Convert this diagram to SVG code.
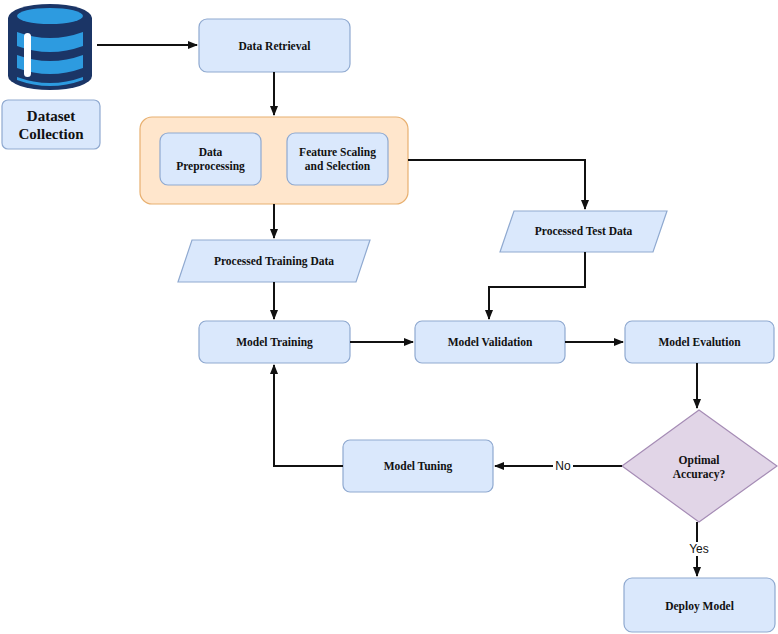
<svg xmlns="http://www.w3.org/2000/svg" width="778" height="634" viewBox="0 0 778 634">
<style>
.b{fill:#dae8fc;stroke:#8fa9d0;stroke-width:1.2}
.t{font-family:"Liberation Serif",serif;font-weight:bold;font-size:11.5px;fill:#111;text-anchor:middle}
.c{fill:none;stroke:#111;stroke-width:2}
.l{font-family:"Liberation Sans",sans-serif;font-size:12px;fill:#111;text-anchor:middle}
</style>
<defs><marker id="a" viewBox="0 0 10 10" refX="9" refY="5" markerWidth="5" markerHeight="5" orient="auto"><path d="M0,1 L10,5 L0,9 z" fill="#111"/></marker></defs>
<rect width="778" height="634" fill="#fff"/>
<g id="db">
<path d="M8,18 A42,14 0 0 1 92,18 L92,76 A42,14 0 0 1 8,76 Z" fill="#1b3566"/>
<ellipse cx="50" cy="16" rx="33" ry="8" fill="#2d9be0"/>
<path d="M17,32 Q50,44 83,32 L83,46 Q50,58 17,46 Z" fill="#2d9be0"/>
<path d="M17,55 Q50,67 83,55 L83,68 Q50,80 17,68 Z" fill="#2d9be0"/>
<path d="M17,77 Q50,89 83,77 L83,80 Q50,92 17,80 Z" fill="#2d9be0"/>
<rect x="24" y="33" width="7" height="44" rx="3.5" fill="#fff"/>
</g>
<g id="dataset"><rect class="b" x="2" y="100" width="98" height="49" rx="6"/><text class="t" style="font-size:15px" x="51" y="121">Dataset</text><text class="t" style="font-size:15px" x="51" y="139">Collection</text></g>
<g id="retrieval"><rect class="b" x="199" y="19" width="151" height="53" rx="8"/><text class="t" x="274.5" y="50">Data Retrieval</text></g>
<g id="prep-group"><rect x="140" y="117" width="268" height="87" rx="12" fill="#ffe6cc" stroke="#e8b070" stroke-width="1.2"/></g>
<g id="preproc"><rect class="b" x="160" y="133" width="101" height="52" rx="8"/><text class="t" x="210.5" y="156">Data</text><text class="t" x="210.5" y="170">Preprocessing</text></g>
<g id="feature"><rect class="b" x="287" y="133" width="101" height="52" rx="8"/><text class="t" x="337.5" y="156">Feature Scaling</text><text class="t" x="337.5" y="170">and Selection</text></g>
<g id="testdata"><polygon class="b" points="514,211 667,211 653,252 500,252"/><text class="t" x="583.5" y="235">Processed Test Data</text></g>
<g id="traindata"><polygon class="b" points="192,240 370,240 356,282 178,282"/><text class="t" x="274" y="265">Processed Training Data</text></g>
<g id="training"><rect class="b" x="199" y="321" width="151" height="42" rx="7"/><text class="t" x="274.5" y="346">Model Training</text></g>
<g id="validation"><rect class="b" x="415" y="321" width="150" height="42" rx="7"/><text class="t" x="490" y="346">Model Validation</text></g>
<g id="evaluation"><rect class="b" x="625" y="321" width="149" height="42" rx="7"/><text class="t" x="699.5" y="346">Model Evalution</text></g>
<g id="decision"><polygon points="699,410 777,466 699,522 622,466" fill="#e1d5e7" stroke="#a58cb5" stroke-width="1.2"/><text class="t" x="699" y="464">Optimal</text><text class="t" x="699" y="478">Accuracy?</text></g>
<g id="tuning"><rect class="b" x="343" y="440" width="150" height="52" rx="7"/><text class="t" x="418" y="470">Model Tuning</text></g>
<g id="deploy"><rect class="b" x="624" y="578" width="151" height="54" rx="8"/><text class="t" x="699.5" y="610">Deploy Model</text></g>
<g id="connectors">
<path class="c" d="M97,45 H197" marker-end="url(#a)"/>
<path class="c" d="M274,72 V115" marker-end="url(#a)"/>
<path class="c" d="M408,160 H585 V209" marker-end="url(#a)"/>
<path class="c" d="M274,204 V238" marker-end="url(#a)"/>
<path class="c" d="M274,282 V319" marker-end="url(#a)"/>
<path class="c" d="M585,252 V287 H489 V319" marker-end="url(#a)"/>
<path class="c" d="M350,342 H413" marker-end="url(#a)"/>
<path class="c" d="M565,342 H623" marker-end="url(#a)"/>
<path class="c" d="M697,363 V408" marker-end="url(#a)"/>
<path class="c" d="M622,466 H495" marker-end="url(#a)"/>
<path class="c" d="M343,466 H274 V365" marker-end="url(#a)"/>
<path class="c" d="M697,522 V576" marker-end="url(#a)"/>
<rect x="553" y="459" width="20" height="14" fill="#fff"/><text class="l" x="563" y="470">No</text>
<rect x="686" y="542" width="26" height="14" fill="#fff"/><text class="l" x="699" y="553">Yes</text>
</g>
</svg>
